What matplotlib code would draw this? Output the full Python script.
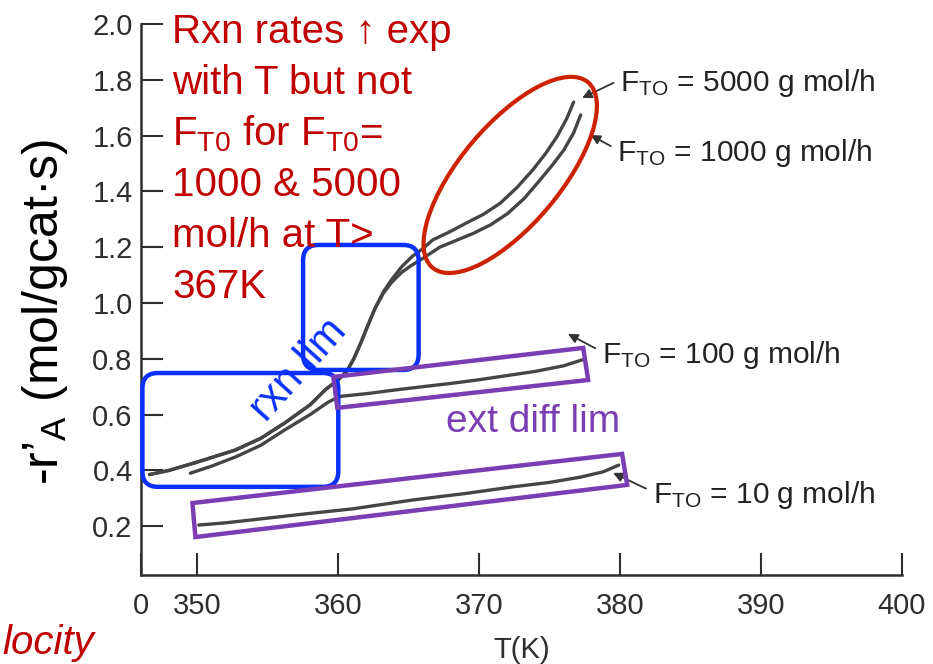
import matplotlib
matplotlib.use("Agg")
import matplotlib.pyplot as plt
from matplotlib.patches import Ellipse, FancyBboxPatch, Polygon
from matplotlib.transforms import ScaledTranslation

plt.rcParams['font.family'] = ['Liberation Sans', 'DejaVu Sans']
plt.rcParams['mathtext.fontset'] = 'custom'
plt.rcParams['mathtext.rm'] = 'Liberation Sans'
plt.rcParams['mathtext.default'] = 'regular'

# curves (T in K, -r'A in mol/gcat.s)
T_10 = [350.1, 352.0, 355.0, 358.2, 361.0, 365.3, 369.0, 372.4, 375.0, 377.2, 378.8, 379.9]
r_10 = [0.204, 0.212, 0.229, 0.247, 0.262, 0.294, 0.317, 0.341, 0.357, 0.376, 0.395, 0.419]

T_100 = [349.5, 351.0, 352.7, 354.5, 356.2, 358.0, 359.3, 360.1, 362.0, 364.0, 366.0,
         368.2, 370.0, 372.0, 374.0, 376.0, 377.3]
r_100 = [0.390, 0.415, 0.448, 0.490, 0.545, 0.600, 0.645, 0.665, 0.675, 0.688, 0.700,
         0.713, 0.725, 0.740, 0.755, 0.775, 0.796]

T_1000 = [346.6, 348.0, 350.0, 352.7, 354.5, 356.2, 358.0, 359.1, 360.0, 360.6, 361.1,
          361.6, 362.1, 362.6, 363.2, 363.8, 364.5, 365.2, 366.0, 367.2, 368.4,
          369.6, 370.8, 372.0, 373.2, 374.3, 375.2, 376.0, 376.7, 377.2]
r_1000 = [0.385, 0.400, 0.430, 0.473, 0.515, 0.570, 0.635, 0.690, 0.725, 0.755, 0.800,
          0.857, 0.920, 0.980, 1.035, 1.075, 1.110, 1.135, 1.160, 1.200, 1.225,
          1.250, 1.280, 1.320, 1.375, 1.440, 1.495, 1.548, 1.610, 1.674]

T_5000 = [346.6, 348.0, 350.0, 352.7, 354.5, 356.2, 358.0, 359.1, 360.0, 360.6, 361.1,
          361.6, 362.1, 362.6, 363.2, 363.8, 364.5, 365.2, 366.0, 366.7, 367.9,
          369.1, 370.3, 371.5, 372.7, 373.8, 374.7, 375.5, 376.2, 376.7]
r_5000 = [0.385, 0.400, 0.430, 0.473, 0.515, 0.570, 0.635, 0.690, 0.725, 0.755, 0.800,
          0.857, 0.920, 0.980, 1.040, 1.085, 1.130, 1.165, 1.195, 1.226, 1.255,
          1.287, 1.318, 1.358, 1.415, 1.477, 1.535, 1.595, 1.660, 1.720]

x_ticks = [346, 350, 360, 370, 380, 390, 400]
x_labels = ['0', '350', '360', '370', '380', '390', '400']
y_ticks = [0.2, 0.4, 0.6, 0.8, 1.0, 1.2, 1.4, 1.6, 1.8, 2.0]

# label: (text, arrow head (T, r), text anchor (T, r))
flow_labels = [
    (r'F$_{TO}$ = 5000 g mol/h', (377.3, 1.735), (380.0, 1.789)),
    (r'F$_{TO}$ = 1000 g mol/h', (377.9, 1.602), (379.8, 1.538)),
    (r'F$_{TO}$ = 100 g mol/h', (376.3, 0.889), (378.7, 0.814)),
    (r'F$_{TO}$ = 10 g mol/h', (379.5, 0.391), (382.3, 0.312)),
]

note_lines = ['Rxn rates ↑ exp', 'with T but not', r'F$_{T0}$ for F$_{T0}$=',
              '1000 & 5000', 'mol/h at T>', '367K']

W, H = 933, 664
fig = plt.figure(figsize=(W / 100, H / 100), dpi=100)
ax = fig.add_axes([141 / W, 1 - 575 / H, (902 - 141) / W, (575 - 24) / H])

ink = '#454545'
for T, r in [(T_10, r_10), (T_100, r_100), (T_1000, r_1000), (T_5000, r_5000)]:
    ax.plot(T, r, color=ink, lw=2.4, solid_capstyle='round', solid_joinstyle='round')

ax.set_xlim(346, 400)
ax.set_ylim(0.025, 2.0)
ax.set_xticks(x_ticks)
ax.set_xticklabels(x_labels)
ax.set_yticks(y_ticks)
ax.set_yticklabels(['%.1f' % v for v in y_ticks])
for s in ['top', 'right']:
    ax.spines[s].set_visible(False)
for s in ['left', 'bottom']:
    ax.spines[s].set_linewidth(1.8)
    ax.spines[s].set_color('#2e2e2e')
ax.tick_params(axis='x', direction='in', length=16, width=1.5, pad=12,
               labelsize=21, colors='#2e2e2e')
ax.tick_params(axis='y', direction='in', length=16, width=1.5, pad=6,
               labelsize=21, colors='#2e2e2e')
ax.set_xlabel('T(K)', fontsize=21, color='#2e2e2e', labelpad=12)

fig.text(45 / W, 1 - 312 / H, r"-r’$_{A}$ (mol/gcat·s)", rotation=90,
         ha='center', va='center', fontsize=36, color='black')

for txt, head, anchor in flow_labels:
    ax.annotate(txt, xy=head, xytext=anchor, fontsize=21.5, color='#222222',
                ha='left', va='center',
                arrowprops=dict(arrowstyle='-|>', color='#333333', lw=1.3,
                                mutation_scale=14, shrinkA=3, shrinkB=0,
                                relpos=(0, 0.6)))

# red note
for i, line in enumerate(note_lines):
    fig.text(172 / W, 1 - (43 + 51 * i) / H, line, fontsize=29, color='#c00000',
             ha='left', va='baseline')

fig.text(2 / W, 1 - 654 / H, 'locity', fontsize=29, color='#c00000',
         style='italic', ha='left', va='baseline')

# annotation shapes
fig.canvas.draw()
p0 = ax.transData.transform((350, 0.2))
p1 = ax.transData.transform((360, 1.2))
px_x = (p1[0] - p0[0]) / 10.0
px_y = (p1[1] - p0[1]) / 1.0
aspect = px_x / px_y

blue = '#0a30ff'
for (x0, x1, y0, y1) in [(346.1, 360.0, 0.341, 0.749), (357.5, 365.7, 0.760, 1.208)]:
    box = FancyBboxPatch((x0, y0), x1 - x0, y1 - y0,
                         boxstyle='round,pad=0,rounding_size=1.1',
                         mutation_aspect=aspect, fill=False, ec=blue, lw=3.2,
                         clip_on=False, zorder=5)
    ax.add_patch(box)

purple = '#7b3db3'
rect_100 = [(359.65, 0.735), (377.38, 0.839), (377.73, 0.724), (359.93, 0.624)]
rect_10 = [(349.65, 0.283), (380.14, 0.459), (380.50, 0.348), (349.86, 0.161)]
for pts in [rect_100, rect_10]:
    ax.add_patch(Polygon(pts, closed=True, fill=False, ec=purple, lw=3.2,
                         joinstyle='miter', clip_on=False, zorder=5))

tr = fig.dpi_scale_trans + ScaledTranslation(372.2, 1.459, ax.transData)
ax.add_patch(Ellipse((0, 0), width=2.42, height=1.0, angle=50, transform=tr,
                     fill=False, ec='#cc2200', lw=3, clip_on=False, zorder=5))

ax.text(357.2, 0.76, 'rxn lim', rotation=48, fontsize=30, color=blue,
        ha='center', va='center', rotation_mode='anchor')
ax.text(373.8, 0.573, 'ext diff lim', fontsize=28, color=purple,
        ha='center', va='center')

fig.savefig('out.png', dpi=100)
